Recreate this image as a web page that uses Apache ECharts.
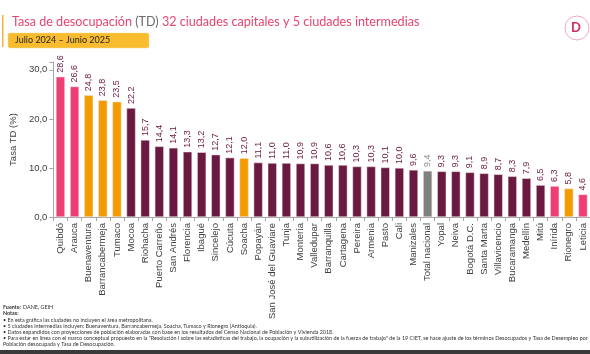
<!DOCTYPE html>
<html>
<head>
<meta charset="utf-8">
<script src="https://cdn.jsdelivr.net/npm/echarts@6/dist/echarts.min.js"></script>
<style>
  html, body { margin: 0; padding: 0; background: #fff; }
  #chart { width: 590px; height: 354px; }
</style>
</head>
<body>
<div id="chart"></div>
<script>
const cities = [
  "Quibdó", "Arauca", "Buenaventura", "Barrancabermeja", "Tumaco", "Mocoa",
  "Riohacha", "Puerto Carreño", "San Andrés", "Florencia", "Ibagué", "Sincelejo",
  "Cúcuta", "Soacha", "Popayán", "San José del Guaviare", "Tunja", "Montería",
  "Valledupar", "Barranquilla", "Cartagena", "Pereira", "Armenia", "Pasto",
  "Cali", "Manizales", "Total nacional", "Yopal", "Neiva", "Bogotá D.C.",
  "Santa Marta", "Villavicencio", "Bucaramanga", "Medellín", "Mitú", "Inírida",
  "Rionegro", "Leticia"
];
const tasa = [
  28.6, 26.6, 24.8, 23.8, 23.5, 22.2,
  15.7, 14.4, 14.1, 13.3, 13.2, 12.7,
  12.1, 12.0, 11.1, 11.0, 11.0, 10.9,
  10.9, 10.6, 10.6, 10.3, 10.3, 10.1,
  10.0, 9.6, 9.4, 9.3, 9.3, 9.1,
  8.9, 8.7, 8.3, 7.9, 6.5, 6.3,
  5.8, 4.6
];
// p = pink, o = intermediate city (orange), t = total, c = capital
const kind = [
  "p", "p", "o", "o", "o", "c",
  "c", "c", "c", "c", "c", "c",
  "c", "o", "c", "c", "c", "c",
  "c", "c", "c", "c", "c", "c",
  "c", "c", "t", "c", "c", "c",
  "c", "c", "c", "c", "c", "p",
  "o", "p"
];
const yTicks = [0, 10, 20, 30];

const colors = { p: "#EE3F74", o: "#F39C00", c: "#6A1941", t: "#808080" };
const fmt = (v) => v.toFixed(1).replace(".", ",");

const notes = [
  "• En esta gráfica las ciudades no incluyen el área metropolitana.",
  "• 5 ciudades intermedias incluyen: Buenaventura, Barrancabermeja, Soacha, Tumaco y Rionegro (Antioquia).",
  "• Datos expandidos con proyecciones de población elaboradas con base en los resultados del Censo Nacional de Población y Vivienda 2018.",
  "• Para estar en línea con el marco conceptual propuesto en la \"Resolución I sobre las estadísticas del trabajo, la ocupación y la subutilización de la fuerza de trabajo\" de la 19 CIET, se hace ajuste de los términos Desocupados y Tasa de Desempleo por",
  "Población desocupada y Tasa de Desocupación."
];

const chart = echarts.init(document.getElementById("chart"));

const footFont = "5.4px Lato";
const footBold = "bold 5.4px Lato";
const footText = [
  { type: "text", left: 3, top: 305, style: { text: "Fuente:", font: footBold, fill: "#333" } },
  { type: "text", left: 23, top: 305, style: { text: "DANE, GEIH", font: footFont, fill: "#333" } },
  { type: "text", left: 3, top: 311.2, style: { text: "Notas:", font: footBold, fill: "#333" } }
].concat(notes.map((n, i) => ({
  type: "text", left: 3, top: 317.4 + i * 6.2,
  style: { text: n, font: footFont, fill: "#333" }
})));

chart.setOption({
  animation: false,
  grid: { left: 36, right: 0, top: 62, bottom: 137 },
  xAxis: {
    type: "category",
    data: cities,
    axisLine: { lineStyle: { color: "#A6A6A6" } },
    axisTick: { show: true, length: 4, lineStyle: { color: "#A6A6A6" } },
    axisLabel: {
      interval: 0, rotate: 90, fontSize: 9.5, color: "#404040",
      fontFamily: "Liberation Sans", margin: 6
    }
  },
  yAxis: {
    type: "value",
    min: 0, max: 31.6, interval: 10,
    name: "Tasa TD (%)",
    nameLocation: "middle",
    nameGap: 26,
    nameTextStyle: { fontSize: 9.5, color: "#404040", fontFamily: "Liberation Sans" },
    axisLine: { show: true, lineStyle: { color: "#A6A6A6" } },
    axisTick: { show: true, length: 4, lineStyle: { color: "#A6A6A6" } },
    splitLine: { show: false },
    axisLabel: {
      fontSize: 9.5, color: "#404040", fontFamily: "Liberation Sans", margin: 6,
      formatter: (v) => (yTicks.includes(v) ? fmt(v) : "")
    }
  },
  series: [{
    type: "bar",
    barWidth: 9,
    data: tasa.map((v, i) => ({
      value: v,
      itemStyle: { color: colors[kind[i]], borderColor: "#F4E6EC", borderWidth: 0.5 },
      label: { color: kind[i] === "t" ? "#8C8C8C" : "#6A1941" }
    })),
    label: {
      show: true, position: "top", rotate: 90, align: "left", verticalAlign: "middle",
      distance: 4, fontSize: 9, fontFamily: "Liberation Sans",
      formatter: (p) => fmt(p.value)
    }
  }],
  graphic: [
    { type: "rect", shape: { x: 2, y: 15, width: 1.5, height: 32 }, style: { fill: "#F3B23A" } },
    {
      type: "text", left: 12, top: 15,
      style: {
        text: "{a|Tasa de desocupación }{b|(TD)}{a| 32 ciudades capitales y 5 ciudades intermedias}",
        rich: {
          a: { fontSize: 12.6, fontFamily: "Lato", fill: "#E8456F" },
          b: { fontSize: 12.6, fontFamily: "Lato", fill: "#6B6B6B" }
        }
      }
    },
    {
      type: "rect", shape: { x: 8, y: 33, width: 141, height: 15, r: 2 },
      style: { fill: "#F9BC2F", stroke: "#F6D98A", lineWidth: 0.5 }
    },
    { type: "text", left: 15, top: 35.5, style: { text: "Julio 2024 – Junio 2025", font: "9px Lato", fill: "#262626" } },
    { type: "circle", shape: { cx: 577, cy: 28, r: 12 }, style: { fill: "#fff", stroke: "#F1A7C0", lineWidth: 1 } },
    { type: "text", left: 571, top: 21, style: { text: "D", font: "bold 13px Lato", fill: "#D12A6A" } },
    ...footText,
    { type: "rect", shape: { x: 0, y: 350, width: 590, height: 4 }, style: { fill: "#3A3A3A" } }
  ]
});
</script>
</body>
</html>
